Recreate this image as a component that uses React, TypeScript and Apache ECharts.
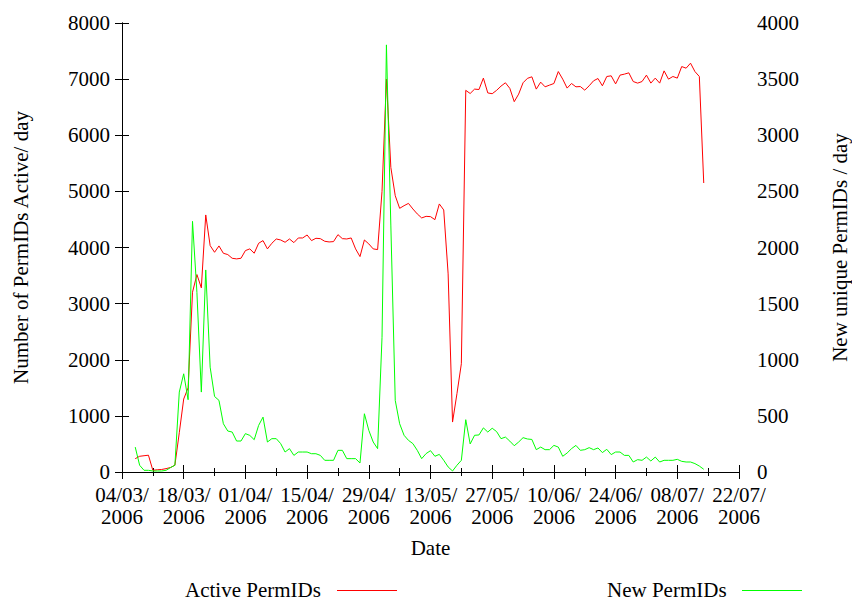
import React, { useEffect, useRef } from "react";
import * as echarts from "echarts";

// x axis: days counted from 04/03/2006 (axis origin)
const axisStart = Date.UTC(2006, 2, 4);
const axisEndDay = 140; // 22/07/2006
const tickDays = 14;
const firstDataDay = 3; // 07/03/2006

const activeIds: number[] = [
  238, 280, 290, 299, 30, 40, 45, 60, 80, 120,
  700, 1300, 1500, 3203, 3518, 3281, 4580, 4034, 3915, 4028,
  3897, 3874, 3808, 3797, 3808, 3945, 3975, 3898, 4075, 4123,
  3975, 4075, 4152, 4134, 4093, 4152, 4087, 4170, 4170, 4223,
  4123, 4164, 4158, 4111, 4099, 4105, 4229, 4158, 4152, 4170,
  3975, 3838, 4134, 4064, 3975, 3963, 5000, 7000, 5427, 4923,
  4698, 4745, 4786, 4687, 4598, 4527, 4555, 4550, 4496, 4776,
  4669, 3530, 890, 1395, 1929, 6800, 6744, 6822, 6815, 7018,
  6754, 6740, 6800, 6875, 6935, 6835, 6598, 6733, 6935, 7014,
  7041, 6822, 6946, 6863, 6893, 6922, 7135, 7000, 6840, 6922,
  6863, 6868, 6804, 6881, 6970, 7011, 6881, 7047, 7059, 6915,
  7071, 7089, 7112, 6957, 6929, 6957, 7071, 6929, 7018, 6929,
  7147, 7000, 7047, 7018, 7224, 7195, 7284, 7135, 7047, 5149,
];

const newIds: number[] = [
  222, 60, 15, 15, 9, 9, 9, 15, 39, 60,
  712, 875, 644, 2233, 1600, 712, 1800, 934, 673, 638,
  430, 365, 356, 276, 276, 342, 326, 288, 415, 489,
  267, 297, 297, 253, 178, 208, 148, 178, 178, 178,
  163, 163, 148, 104, 104, 104, 193, 193, 119, 119,
  119, 80, 519, 371, 267, 208, 1200, 3805, 2200, 638,
  430, 327, 282, 253, 193, 119, 164, 190, 140, 157,
  104, 45, 9, 60, 104, 466, 250, 327, 330, 393,
  356, 390, 360, 297, 311, 275, 234, 267, 306, 294,
  290, 199, 222, 199, 199, 237, 222, 140, 169, 208,
  237, 193, 199, 217, 199, 214, 173, 202, 155, 178,
  178, 148, 148, 89, 110, 104, 133, 98, 133, 89,
  104, 104, 104, 113, 95, 89, 89, 75, 53, 24,
];

const leftMax = 8000;
const leftStep = 1000;
const rightMax = 4000;
const rightStep = 500;

const seriesNames = ["Active PermIDs", "New PermIDs"];
const xTitle = "Date";
const leftTitle = "Number of PermIDs Active/ day";
const rightTitle = "New unique PermIDs / day";

const FONT = "'Liberation Serif', 'Times New Roman', serif";
const FS = 21;

function fmtDay(v: number): string {
  const d = new Date(axisStart + v * 86400000);
  const dd = String(d.getUTCDate()).padStart(2, "0");
  const mm = String(d.getUTCMonth() + 1).padStart(2, "0");
  return `${dd}/${mm}/\n${d.getUTCFullYear()}`;
}

const plain = (v: number) => String(v);

export default function App() {
  const ref = useRef<HTMLDivElement>(null);
  useEffect(() => {
    if (!ref.current) return;
    const chart = echarts.init(ref.current, undefined, { renderer: "svg" });
    const textBase = { color: "#000", fontFamily: FONT, fontSize: FS };
    const axisLine = { show: true, lineStyle: { color: "#000", width: 1 } };
    const redData = activeIds.map((v, i) => [firstDataDay + i, v]);
    const greenData = newIds.map((v, i) => [firstDataDay + i, v]);
    const xCommon = {
      type: "value" as const,
      min: 0,
      max: axisEndDay,
      interval: tickDays,
      axisLine,
      splitLine: { show: false },
      axisTick: { show: true, inside: true, length: 7, lineStyle: { color: "#000" } },
      minorTick: { show: true, splitNumber: 2, length: 4, lineStyle: { color: "#000" } },
    };
    chart.setOption({
      animation: false,
      backgroundColor: "#fff",
      grid: { left: 122, right: 113, top: 23, bottom: 129, outerBoundsMode: "none", containLabel: false },
      xAxis: [
        {
          ...xCommon,
          position: "bottom",
          axisLabel: { ...textBase, formatter: fmtDay, margin: 12, lineHeight: 22 },
          name: xTitle,
          nameLocation: "middle",
          nameGap: 65,
          nameTextStyle: textBase,
        },
        {
          ...xCommon,
          position: "top",
          axisLabel: { show: false },
        },
      ],
      yAxis: [
        {
          type: "value",
          position: "left",
          min: 0,
          max: leftMax,
          interval: leftStep,
          axisLine,
          splitLine: { show: false },
          axisTick: { show: true, inside: true, length: 7, lineStyle: { color: "#000" } },
          axisLabel: { ...textBase, margin: 12, formatter: plain, lineHeight: 16 },
          name: leftTitle,
          nameLocation: "middle",
          nameRotate: 90,
          nameGap: 91,
          nameTextStyle: textBase,
        },
        {
          type: "value",
          position: "right",
          min: 0,
          max: rightMax,
          interval: rightStep,
          axisLine,
          splitLine: { show: false },
          axisTick: { show: true, inside: true, length: 7, lineStyle: { color: "#000" } },
          axisLabel: { ...textBase, margin: 18, formatter: plain, lineHeight: 16 },
          name: rightTitle,
          nameLocation: "middle",
          nameRotate: 90,
          nameGap: 90,
          nameTextStyle: textBase,
        },
      ],
      series: [
        {
          name: seriesNames[0],
          type: "line",
          xAxisIndex: 0,
          yAxisIndex: 0,
          data: redData,
          showSymbol: false,
          symbol: "none",
          lineStyle: { color: "#ff0000", width: 1 },
          itemStyle: { color: "#ff0000" },
          z: 2,
        },
        {
          name: seriesNames[1],
          type: "line",
          xAxisIndex: 0,
          yAxisIndex: 1,
          data: greenData,
          showSymbol: false,
          symbol: "none",
          lineStyle: { color: "#00ff00", width: 1 },
          itemStyle: { color: "#00ff00" },
          z: 3,
        },
      ],
      graphic: [
        { type: "text", x: 185, y: 590, style: { text: seriesNames[0], fill: "#000", font: `${FS}px ${FONT}`, verticalAlign: "middle" } },
        { type: "line", shape: { x1: 337, y1: 590.5, x2: 397, y2: 590.5 }, style: { stroke: "#ff0000", lineWidth: 1 } },
        { type: "text", x: 607, y: 590, style: { text: seriesNames[1], fill: "#000", font: `${FS}px ${FONT}`, verticalAlign: "middle" } },
        { type: "line", shape: { x1: 742, y1: 590.5, x2: 802, y2: 590.5 }, style: { stroke: "#00ff00", lineWidth: 1 } },
      ],
    });
    return () => chart.dispose();
  }, []);
  return (
    <div
      ref={ref}
      style={{ position: "fixed", left: 0, top: 0, width: 852, height: 601, background: "#fff" }}
    />
  );
}
